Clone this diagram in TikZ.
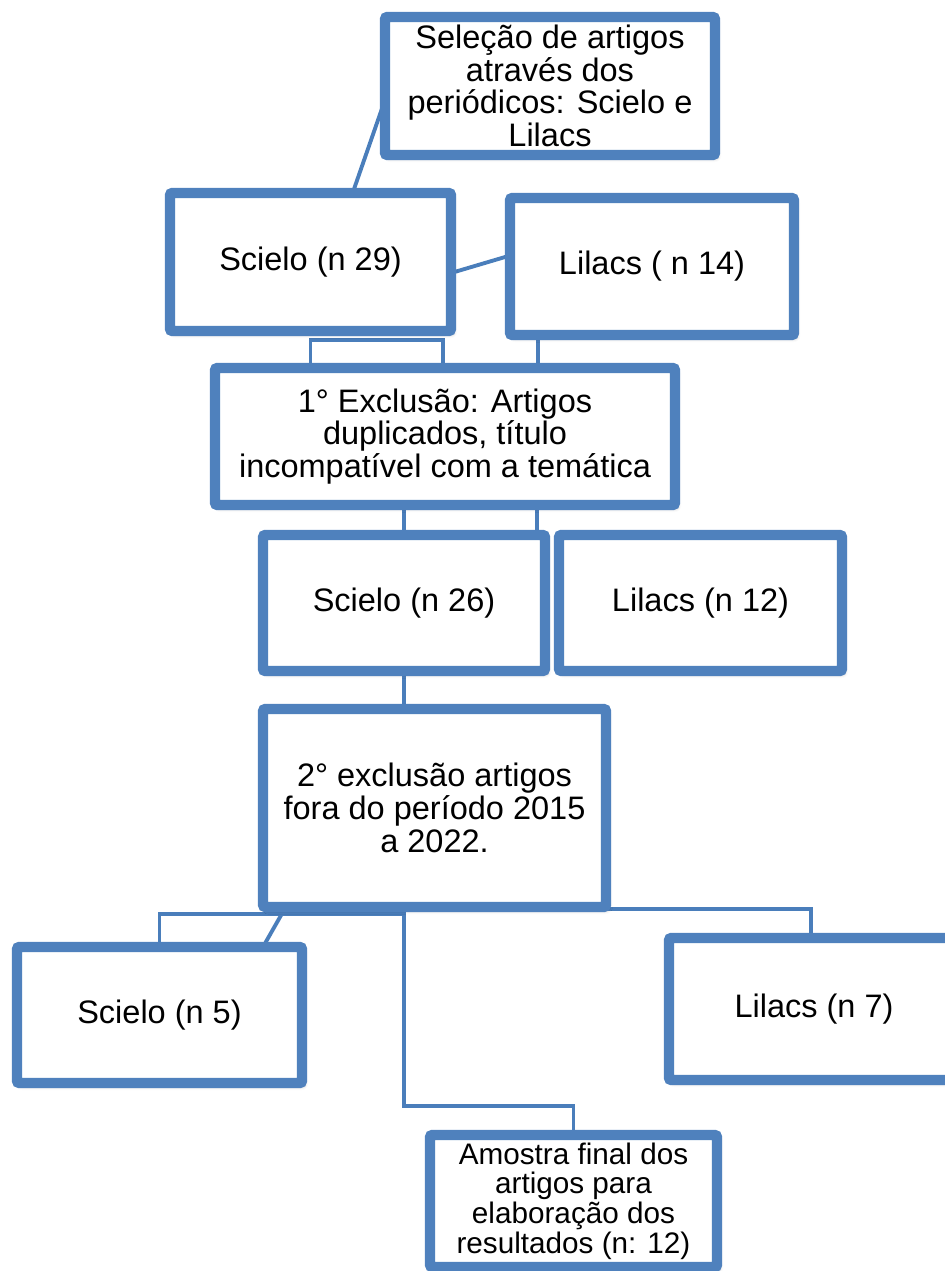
\documentclass[tikz,border=0pt]{standalone}
\usepackage{fontspec}
\setmainfont{Liberation Sans}
\usepackage{tikz}
\usetikzlibrary{calc,backgrounds,shadows.blur}

\definecolor{boxblue}{HTML}{4F81BD}
\definecolor{lineblue}{HTML}{4A7EBB}

\begin{document}
\begin{tikzpicture}[
  x=0.02cm, y=-0.02cm,
  font=\fontsize{18.5}{18.6}\selectfont,
  box/.style={rectangle, draw=boxblue, line width=5.8pt, fill=white,
              rounded corners=1.2pt, align=center, inner sep=1pt, outer sep=0pt,
              blur shadow={shadow xshift=1.5pt, shadow yshift=-2pt,
                           shadow blur radius=2pt, shadow opacity=25}},
  link/.style={draw=lineblue, line width=2.2pt}
]
\useasboundingbox (0,0) rectangle (945,1271);

\node[box, minimum width=6.6cm,  minimum height=2.76cm] (sel) at (550,86)
  {Seleção de artigos\\através dos\\periódicos: Scielo e\\Lilacs};
\node[box, minimum width=5.62cm, minimum height=2.76cm] (s29) at (310.5,262) {Scielo (n 29)};
\node[box, minimum width=5.68cm, minimum height=2.74cm] (l14) at (652,266.5) {Lilacs ( n 14)};
\node[box, minimum width=9.2cm,  minimum height=2.74cm] (exc) at (445,436.5)
  {1° Exclusão: Artigos\\duplicados, título\\incompatível com a temática};
\node[box, minimum width=5.64cm, minimum height=2.72cm] (s26) at (404,603) {Scielo (n 26)};
\node[box, minimum width=5.66cm, minimum height=2.72cm] (l12) at (700.5,603) {Lilacs (n 12)};
\node[box, minimum width=6.86cm, minimum height=3.96cm] (ex2) at (434.5,808)
  {2° exclusão artigos\\fora do período 2015\\a 2022.};
\node[box, minimum width=5.7cm,  minimum height=2.72cm] (s5) at (159.5,1015) {Scielo (n 5)};
\node[box, minimum width=5.8cm,  minimum height=2.84cm] (l7) at (814,1009) {Lilacs (n 7)};
\node[box, minimum width=5.74cm, minimum height=2.64cm,
      font=\fontsize{16.9}{16.9}\selectfont] (am) at (573.5,1201)
  {Amostra final dos\\artigos para\\elaboração dos\\resultados (n: 12)};

% connectors behind the boxes
\begin{scope}[on background layer]
\coordinate (k1) at ($(s29.south east)+(-8,9)$);
\coordinate (k2) at ($(l14.south west)+(28,0)$);
\coordinate (k3) at ($(s26.north east)+(-8,0)$);

\draw[link] ($(sel.north west)!0.6!(sel.south west)$) -- ($(s29.north west)!0.65!(s29.north east)$);
\draw[link] ($(s29.north east)!0.58!(s29.south east)$) -- ($(l14.north west)!0.42!(l14.south west)$);
\draw[link] (exc.north -| s29.south) |- (k1) -- (k1 |- exc.north);
\draw[link] (k2) -- (k2 |- exc.north);
\draw[link] (exc.south -| s26.north) -- (s26.north);
\draw[link] (k3 |- exc.south) -- (k3);
\draw[link] (s26.south) -- (s26.south |- ex2.north);

\draw[link] ($(ex2.south -| s26.south)+(0,7)$) -| (s5.north);
\draw[link] ($(ex2.south west)+(21,3)$) -- ($(s5.north east)+(-39,0)$);
\draw[link] (ex2.south -| s26.south) |- ($(am.north)+(0,-29)$) -- (am.north);
\draw[link] ($(ex2.south east)+(0,2)$) -| ($(l7.north west)+(142,0)$);
\end{scope}
\end{tikzpicture}
\end{document}
